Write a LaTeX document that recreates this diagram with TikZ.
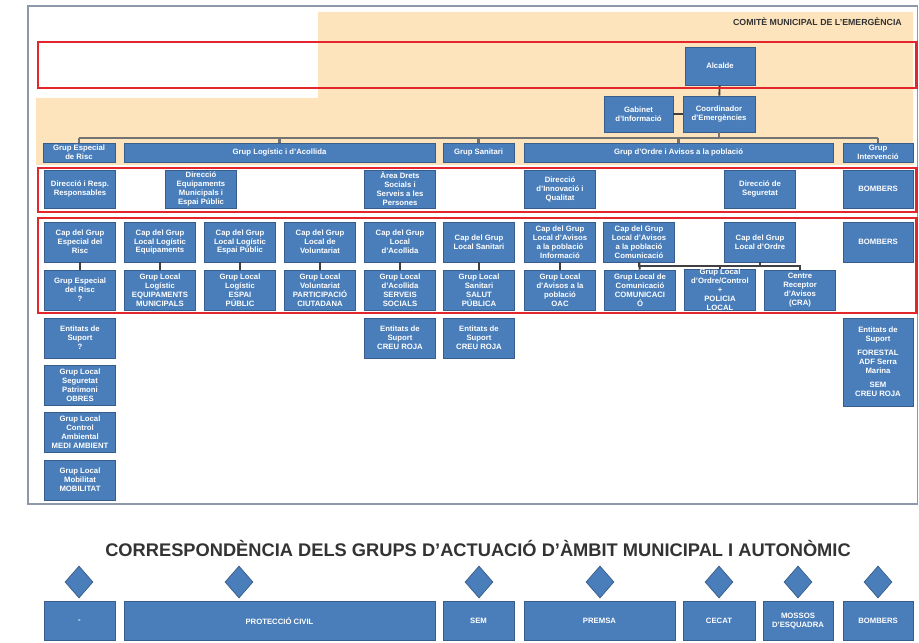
\documentclass[tikz,border=0pt]{standalone}
\usepackage{fontspec}
\setmainfont{Liberation Sans}
\usetikzlibrary{positioning,shapes.geometric,calc}
\definecolor{boxblue}{HTML}{4A7EBB}
\definecolor{boxedge}{HTML}{385D8A}
\definecolor{comitepeach}{HTML}{FDE4BC}
\definecolor{zonered}{HTML}{E3262B}
\definecolor{framegray}{HTML}{8D99AA}
\newcommand{\boxfont}{\fontsize{4.4}{5.1}\selectfont\bfseries}

\begin{document}
\begin{tikzpicture}[x=0.02cm, y=-0.02cm,
    orgbox/.style={draw=boxedge, fill=boxblue, text=white, font=\boxfont, align=center, inner sep=0pt, minimum width=1.42cm, minimum height=0.8cm},
    grpbox/.style={orgbox, minimum height=0.38cm},
    linkline/.style={draw=black!75, line width=1.1pt},
    busline/.style={draw=black!55, line width=1.3pt},
    zonebox/.style={draw=zonered, line width=1.7pt},
    corresp/.style={diamond, draw=boxedge, fill=boxblue, inner sep=0pt, minimum width=0.56cm, minimum height=0.64cm},
]
\useasboundingbox (0,0) rectangle (919,642);

% comite area
\fill[comitepeach] (318,12) -- (913,12) -- (913,165) -- (36,165) -- (36,98) -- (318,98) -- cycle;
\draw[framegray, line width=1.1pt] (28,6) rectangle (917.5,504);
\node[font=\fontsize{5}{6}\selectfont\bfseries, text=black!80, anchor=east] (comite) at (908,22) {COMITÈ MUNICIPAL DE L'EMERGÈNCIA};

\node[orgbox, minimum width=1.4cm, minimum height=0.76cm] (alcalde) at (720,66) {Alcalde};
\node[orgbox, minimum width=1.38cm, minimum height=0.72cm] (gabinet) at (638.5,114) {Gabinet\\d'Informació};
\node[orgbox, minimum width=1.44cm, minimum height=0.72cm] (coord) at (719,114) {Coordinador\\d'Emergències};

% grups
\node[grpbox, minimum width=1.44cm] (gRisc) at (79,152.5) {Grup Especial\\de Risc};
\node[grpbox, minimum width=6.22cm] (gLogistic) at (279.5,152.5) {Grup Logístic i d'Acollida};
\node[grpbox] (gSanitari) at (478.5,152.5) {Grup Sanitari};
\node[grpbox, minimum width=6.18cm] (gOrdre) at (678.5,152.5) {Grup d'Ordre i Avisos a la població};
\node[grpbox, minimum width=1.4cm] (gInterv) at (878,152.5) {Grup\\Intervenció};

% responsables
\node[orgbox, minimum height=0.76cm] (resp1) at (80,189) {Direcció i Resp.\\Responsables};
\node[orgbox, minimum height=0.76cm] (resp2) at (201,189) {Direcció\\Equipaments\\Municipals i\\Espai Públic};
\node[orgbox, minimum height=0.76cm] (resp3) at (400,189) {Àrea Drets\\Socials i\\Serveis a les\\Persones};
\node[orgbox, minimum height=0.76cm] (resp4) at (560,189) {Direcció\\d'Innovació i\\Qualitat};
\node[orgbox, minimum height=0.76cm] (resp5) at (760,189) {Direcció de\\Seguretat};
\node[orgbox, minimum width=1.4cm, minimum height=0.76cm] (resp6) at (878,189) {BOMBERS};

% caps de grup
\node[orgbox] (cap1) at (80,242) {Cap del Grup\\Especial del\\Risc};
\node[orgbox] (cap2) at (160,242) {Cap del Grup\\Local Logístic\\Equipaments};
\node[orgbox] (cap3) at (240,242) {Cap del Grup\\Local Logístic\\Espai Públic};
\node[orgbox] (cap4) at (320,242) {Cap del Grup\\Local de\\Voluntariat};
\node[orgbox] (cap5) at (400,242) {Cap del Grup\\Local\\d'Acollida};
\node[orgbox] (cap6) at (479,242) {Cap del Grup\\Local Sanitari};
\node[orgbox] (cap7) at (560,242) {Cap del Grup\\Local d'Avisos\\a la població\\Informació};
\node[orgbox] (cap8) at (639,242) {Cap del Grup\\Local d'Avisos\\a la població\\Comunicació};
\node[orgbox] (cap9) at (760,242) {Cap del Grup\\Local d'Ordre};
\node[orgbox, minimum width=1.4cm] (cap10) at (878,242) {BOMBERS};

% grups locals
\node[orgbox] (loc1) at (80,290) {Grup Especial\\del Risc\\?};
\node[orgbox] (loc2) at (160,290) {Grup Local\\Logístic\\EQUIPAMENTS\\MUNICIPALS};
\node[orgbox] (loc3) at (240,290) {Grup Local\\Logístic\\ESPAI\\PÚBLIC};
\node[orgbox] (loc4) at (320,290) {Grup Local\\Voluntariat\\PARTICIPACIÓ\\CIUTADANA};
\node[orgbox] (loc5) at (400,290) {Grup Local\\d'Acollida\\SERVEIS\\SOCIALS};
\node[orgbox] (loc6) at (479,290) {Grup Local\\Sanitari\\SALUT\\PÚBLICA};
\node[orgbox] (loc7) at (560,290) {Grup Local\\d'Avisos a la\\població\\OAC};
\node[orgbox] (loc8) at (640,290) {Grup Local de\\Comunicació\\COMUNICACI\\Ó};
\node[orgbox] (loc9) at (720,290) {Grup Local\\d'Ordre/Control\\+\\POLICIA\\LOCAL};
\node[orgbox] (loc10) at (800,290) {Centre\\Receptor\\d'Avisos\\(CRA)};

% entitats i altres grups
\node[orgbox] (ent1) at (80,338) {Entitats de\\Suport\\?};
\node[orgbox] (seg1) at (80,385) {Grup Local\\Seguretat\\Patrimoni\\OBRES};
\node[orgbox] (amb1) at (80,432) {Grup Local\\Control\\Ambiental\\MEDI AMBIENT};
\node[orgbox] (mob1) at (80,480) {Grup Local\\Mobilitat\\MOBILITAT};
\node[orgbox] (ent5) at (400,338) {Entitats de\\Suport\\CREU ROJA};
\node[orgbox] (ent6) at (479,338) {Entitats de\\Suport\\CREU ROJA};
\node[orgbox, minimum width=1.4cm, minimum height=1.76cm] (ent10) at (878,362) {Entitats de\\Suport\\[3pt]FORESTAL\\ADF Serra\\Marina\\[3pt]SEM\\CREU ROJA};

% connexions
\coordinate (busL) at (79,138);
\coordinate (busR) at (878,138);
\draw[linkline] (alcalde) -- (coord);
\draw[linkline] (gabinet) -- (coord);
\draw[busline] (coord.south) -- (coord.south |- busL);
\draw[busline] (busL) -- (busR);
\foreach \g in {gRisc,gLogistic,gSanitari,gOrdre,gInterv}
    \draw[busline] (\g.north |- busL) -- (\g.north);
\foreach \c in {1,...,8}
    \draw[linkline] (cap\c) -- (loc\c);
\draw[linkline] (cap8.south) -- ++(0,4) -| (loc9.north);
\draw[linkline] (cap9.south) -- ++(0,4) -| (loc9.north);
\draw[linkline] (cap9.south) -- ++(0,4) -| (loc10.north);

% zones
\draw[zonebox] (38,42) rectangle (916,88);
\draw[zonebox] (38,168) rectangle (916,212);
\draw[zonebox] (38,218) rectangle (916,313);

% correspondencia
\node[font=\fontsize{10.4}{12}\selectfont\bfseries, text=black!80] (corresptitle) at (478,548) {CORRESPONDÈNCIA DELS GRUPS D'ACTUACIÓ D'ÀMBIT MUNICIPAL I AUTONÒMIC};
\node[corresp] (dm1) at (79,582) {};
\node[corresp] (dm2) at (239,582) {};
\node[corresp] (dm3) at (479,582) {};
\node[corresp] (dm4) at (600,582) {};
\node[corresp] (dm5) at (719,582) {};
\node[corresp] (dm6) at (798,582) {};
\node[corresp] (dm7) at (878,582) {};
\node[orgbox, minimum height=0.78cm] (aut1) at (79.5,621) {-};
\node[orgbox, minimum width=6.22cm, minimum height=0.78cm] (aut2) at (279.5,621) {PROTECCIÓ CIVIL};
\node[orgbox, minimum height=0.78cm] (aut3) at (478.5,621) {SEM};
\node[orgbox, minimum width=3.02cm, minimum height=0.78cm] (aut4) at (599.5,621) {PREMSA};
\node[orgbox, minimum width=1.44cm, minimum height=0.78cm] (aut5) at (719,621) {CECAT};
\node[orgbox, minimum width=1.4cm, minimum height=0.78cm] (aut6) at (798,621) {MOSSOS\\D'ESQUADRA};
\node[orgbox, minimum width=1.4cm, minimum height=0.78cm] (aut7) at (878,621) {BOMBERS};
\end{tikzpicture}
\end{document}
